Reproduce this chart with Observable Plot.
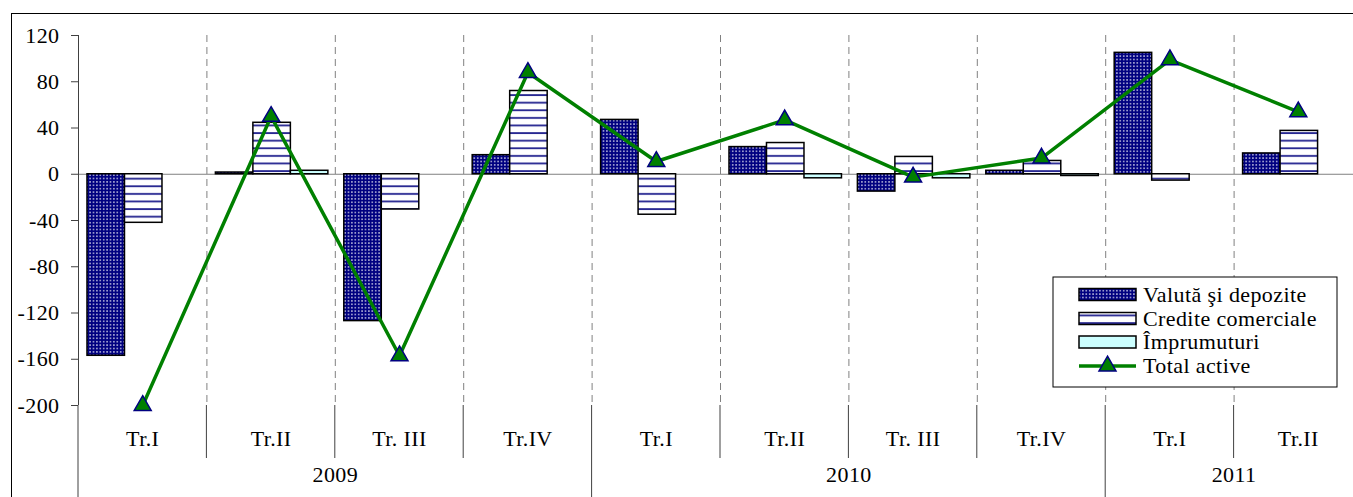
<!DOCTYPE html>
<html><head><meta charset="utf-8">
<script src="https://cdn.jsdelivr.net/npm/d3@7"></script>
<script src="https://cdn.jsdelivr.net/npm/@observablehq/plot@0.6"></script>
<style>
html,body{margin:0;padding:0;overflow:hidden;background:#fff;width:1353px;height:497px;}
#frame{position:absolute;left:11px;top:13px;width:1400px;height:600px;border:1px solid #000;box-sizing:border-box;}
#chart{position:absolute;left:0;top:0;width:1365px;height:497px;}
#chart svg{max-width:none !important;}
</style></head><body>
<div id="frame"></div>
<div id="chart"></div>
<script>
// ---- data ----
const categories = ["Tr.I", "Tr.II", "Tr. III", "Tr.IV", "Tr.I", "Tr.II", "Tr. III", "Tr.IV", "Tr.I", "Tr.II"];
const years = ["2009", "2010", "2011"];
const yearSpans = [4, 4, 2];
const valuta = [-157, 1.5, -127, 16.5, 47, 23.5, -15, 3, 105, 18];
const credite = [-42, 44.5, -30.5, 72, -35, 27, 15, 11.5, -5.5, 37.5];
const imprumuturi = [0, 3, 0, 0, 0, -3.5, -3.5, -1.5, 0, 0];
const totalActive = [-200, 50, -157, 88, 11, 47, -2.5, 14, 99, 54];
const yTicks = [-200, -160, -120, -80, -40, 0, 40, 80, 120];
const seriesNames = ["Valută şi depozite", "Credite comerciale", "Împrumuturi", "Total active"];

// ---- derived ----
const n = categories.length;
const yearStarts = yearSpans.reduce((a, s, k) => (a.push(k ? a[k - 1] + yearSpans[k - 1] : 0), a), []);
const yearBounds = [...yearStarts, n];
const yearCenters = yearStarts.map((s, k) => s + yearSpans[k] / 2);
const barInset = 0.07, barW = 0.292;
const seriesData = [valuta, credite, imprumuturi];
const fills = ["url(#dots)", "url(#stripes)", "#CCFFFF"];
const rows = (arr) => arr.map((v, i) => ({i, v})).filter(d => d.v !== 0);
const pts = totalActive.map((v, i) => ({i, v}));
const FONT = "Liberation Serif";
const FS = 22;

function defs() {
  const g = d3.create("svg:defs");
  const p1 = g.append("pattern").attr("id", "dots").attr("width", 3.4).attr("height", 3.4).attr("patternUnits", "userSpaceOnUse");
  p1.append("rect").attr("width", 3.4).attr("height", 3.4).attr("fill", "#000080");
  p1.append("circle").attr("cx", 1.7).attr("cy", 1.7).attr("r", 0.8).attr("fill", "#ffffff").attr("fill-opacity", 0.85);
  const p2 = g.append("pattern").attr("id", "stripes").attr("width", 8).attr("height", 7.6).attr("patternUnits", "userSpaceOnUse");
  p2.append("rect").attr("width", 8).attr("height", 7.6).attr("fill", "#ffffff");
  p2.append("rect").attr("y", 3).attr("width", 8).attr("height", 1.8).attr("fill", "#23238f");
  return g.node();
}

function extras(index, scales, values, dims) {
  const g = d3.create("svg:g");
  const x = scales.x;
  const yb = dims.height - dims.marginBottom;
  for (let k = 0; k <= n; k++) {
    const isYear = yearBounds.includes(k);
    g.append("line").attr("x1", x(k)).attr("x2", x(k))
      .attr("y1", yb).attr("y2", isYear ? dims.height : yb + 53)
      .attr("stroke", "#404040").attr("stroke-width", 1);
  }
  // legend
  const L = g.append("g").attr("font-family", FONT).attr("font-size", FS)
    .attr("text-anchor", "start").attr("letter-spacing", "0.4px");
  L.append("rect").attr("x", 1053).attr("y", 277).attr("width", 284).attr("height", 110)
    .attr("fill", "#fff").attr("stroke", "#000").attr("stroke-width", 1);
  const rowY = [294.5, 318.5, 342, 366];
  seriesNames.forEach((name, k) => {
    const cy = rowY[k];
    if (k < 3) {
      L.append("rect").attr("x", 1079).attr("y", cy - 6).attr("width", 57).attr("height", 12)
        .attr("fill", fills[k]).attr("stroke", "#000").attr("stroke-width", 1.5);
    } else {
      L.append("line").attr("x1", 1079).attr("x2", 1136).attr("y1", cy).attr("y2", cy)
        .attr("stroke", "#008000").attr("stroke-width", 3.5);
      L.append("path").attr("transform", `translate(1107.5,${cy})`)
        .attr("d", d3.symbol(d3.symbolTriangle, Math.PI * 6.3 * 6.3)())
        .attr("fill", "#008000").attr("stroke", "#000080").attr("stroke-width", 1.5);
    }
    L.append("text").attr("x", 1143).attr("y", cy).attr("dy", "0.33em").attr("fill", "#000").text(name);
  });
  return g.node();
}

const barMarks = seriesData.map((arr, j) => Plot.rect(rows(arr), {
  x1: d => d.i + barInset + j * barW,
  x2: d => d.i + barInset + (j + 1) * barW,
  y1: d => 0,
  y2: d => d.v,
  fill: fills[j], stroke: "#000", strokeWidth: 1.5
}));

const chart = Plot.plot({
  width: 1365, height: 497,
  marginLeft: 78, marginRight: 3, marginTop: 35, marginBottom: 92,
  style: {fontFamily: FONT, fontSize: FS + "px", color: "#000", background: "transparent", overflow: "visible", maxWidth: "none", letterSpacing: "0.4px"},
  x: {type: "linear", domain: [0, n]},
  y: {domain: [-200, 120]},
  marks: [
    defs,
    Plot.ruleX(d3.range(1, n), {stroke: "#808080", strokeDasharray: "7,5", strokeWidth: 1}),
    Plot.ruleY([0], {stroke: "#808080", strokeWidth: 1}),
    Plot.ruleX([0], {stroke: "#404040", strokeWidth: 1}),
    ...barMarks,
    Plot.line(pts, {x: d => d.i + 0.5, y: "v", stroke: "#008000", strokeWidth: 3.5}),
    Plot.dot(pts, {x: d => d.i + 0.5, y: "v", symbol: "triangle", r: 6.3, fill: "#008000", stroke: "#000080", strokeWidth: 1.5}),
    Plot.axisY(yTicks, {tickSize: 7, tickPadding: 12, tickFormat: d => String(d), label: null, stroke: "#404040", fontSize: FS}),
    Plot.axisX(d3.range(n).map(i => i + 0.5), {tickFormat: d => categories[Math.floor(d)], tickSize: 0, tickPadding: 25, label: null, fontSize: FS}),
    Plot.axisX(yearCenters, {tickFormat: d => years[yearCenters.indexOf(d)], tickSize: 0, tickPadding: 61, label: null, fontSize: FS}),
    extras
  ]
});
chart.style.maxWidth = "none";
chart.setAttribute("width", 1365);
chart.setAttribute("height", 497);
document.getElementById("chart").appendChild(chart);
</script>
</body></html>
